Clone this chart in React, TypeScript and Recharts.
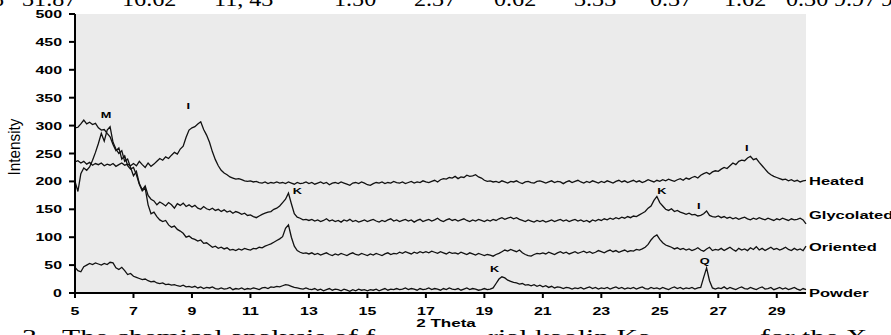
import { LineChart, Line, XAxis, YAxis, CartesianGrid, ReferenceDot } from 'recharts';

// 2-theta grid: 5.0 .. 30.0, every 0.1 degree
const THETA_START = 5;
const THETA_STEP = 0.1;

// intensities, one value per 0.1 degree
const heated = [
  235, 237, 233, 236, 231, 234, 229, 232, 230, 233,
  228, 231, 229, 232, 227, 230, 233, 229, 231, 228,
  232, 228, 236, 230, 225, 233, 227, 231, 236, 241,
  238, 244, 241, 247, 252, 249, 258, 263, 279, 292,
  296, 298, 303, 307, 293, 283, 270, 253, 239, 228,
  220, 215, 212, 208, 206, 204, 205, 203, 201, 200,
  201, 199, 200, 198, 197, 199, 196, 198, 197, 199,
  197, 198, 196, 199, 197, 195, 198, 196, 197, 199,
  196, 198, 195, 197, 199, 196, 198, 194, 197, 198,
  196, 199, 197, 195, 193, 197, 198, 196, 199, 197,
  194, 193, 196, 198, 197, 199, 196, 198, 197, 200,
  198, 197, 199, 196, 198, 200, 197, 199, 198, 201,
  199, 198, 200, 202, 199, 203, 205, 204, 207, 206,
  209, 205, 208, 207, 211, 209, 210, 212, 208, 206,
  202, 200, 201, 199, 200, 198, 201, 199, 197, 200,
  199, 201, 198, 196, 199, 200, 198, 197, 200, 201,
  199, 197, 199, 201, 198, 200, 199, 196, 199, 201,
  198, 200, 202, 199, 197, 200, 198, 201, 199, 197,
  200, 198, 201, 199, 197, 200, 202, 199, 201, 198,
  200, 202, 199, 201, 198, 200, 203, 201, 199, 202,
  200, 203, 201, 204, 202, 200, 203, 205, 202, 206,
  204, 207, 209, 206, 211, 214, 216, 213, 217, 219,
  218, 222, 225, 223, 228, 233, 230, 236, 238, 237,
  242, 245, 239, 241, 234, 228, 222, 216, 212, 209,
  207, 205, 203, 204, 201, 203, 200, 202, 199, 201,
  202,
];

const glycolated = [
  200, 182, 214, 224, 220, 226, 238, 252, 268, 286,
  272, 292, 298, 270, 258, 250, 255, 236, 240, 225,
  210, 218, 196, 185, 192, 175, 168, 165, 158, 163,
  160, 156, 162, 158, 152, 160, 157, 161, 155, 158,
  154, 157, 152, 150, 155, 151, 149, 152, 148, 150,
  146, 149, 145, 147, 143, 146, 144, 141, 143, 139,
  140, 137, 135, 138, 141, 143, 145, 146, 150, 152,
  156, 162, 168, 179, 160, 142, 136, 134, 131, 132,
  130, 132, 129, 131, 128, 130, 133, 129, 131, 128,
  130, 127, 131, 129, 132, 128, 130, 127, 129, 131,
  128, 130, 132, 129, 127, 130, 128, 131, 133, 129,
  131, 128, 130, 132, 129, 131, 127, 130, 132, 128,
  130, 132, 129, 131, 134, 130, 128, 131, 133, 130,
  132, 129, 131, 133, 130, 128, 131, 129, 132, 130,
  128, 131, 129, 132, 130, 133, 135, 132, 134, 136,
  133, 135, 132, 130, 128, 131, 129, 127, 130, 128,
  130, 127, 129, 131, 128, 130, 132, 129, 131, 128,
  130, 132, 129, 131, 128, 130, 127, 131, 129, 132,
  130, 133, 131, 134, 132, 135, 133, 136, 134, 137,
  135, 138, 137, 140, 143, 146, 152, 156, 166, 173,
  162, 156, 150, 148, 151, 146, 148, 145, 143, 141,
  143, 140, 141, 138, 139, 142, 147, 139, 137, 136,
  138, 135, 137, 134, 136, 133, 135, 132, 134, 136,
  133, 131, 134, 132, 135, 133, 131, 134, 132, 130,
  133, 131, 134, 132, 130, 133, 131, 132, 134, 131,
  124,
];

const oriented = [
  296, 297, 303, 310, 303, 306, 302, 304, 296, 292,
  293, 286, 280, 266, 255, 260, 240, 246, 228, 222,
  225, 212, 195, 183, 188, 158, 142, 145, 137, 131,
  128, 130, 122, 118, 120, 114, 111, 107, 100, 102,
  98, 96, 93, 95, 89, 90, 86, 82, 84, 80,
  82, 79, 81, 77, 78, 76, 79, 77, 80, 78,
  77, 80, 79, 82, 81, 84, 86, 88, 91, 94,
  97, 101, 116, 122, 100, 84, 76, 73, 71, 72,
  70, 72, 69, 71, 68, 70, 72, 69, 67, 70,
  68, 71, 69, 67, 70, 72, 69, 68, 71, 69,
  67, 70, 68, 71, 69, 67, 70, 72, 69, 71,
  70, 73, 71, 74, 72, 70, 73, 71, 74, 72,
  74, 72, 75, 73, 71, 74, 72, 70, 73, 71,
  72, 70, 73, 71, 69, 72, 70, 68, 71, 69,
  67, 69, 68, 66, 69, 71, 74, 77, 75, 78,
  76, 74, 77, 72, 69, 67, 66, 69, 71, 70,
  72, 70, 73, 71, 69, 72, 74, 71, 73, 70,
  72, 74, 71, 73, 75, 72, 74, 71, 73, 76,
  74, 72, 75, 77, 74, 76, 73, 75, 77, 74,
  76, 75, 78, 77, 79, 82, 87, 95, 101, 104,
  96, 90, 86, 84, 82, 79, 81, 78, 80, 77,
  79, 76, 78, 81, 77, 75, 79, 82, 76, 78,
  77, 80, 76, 79, 82, 78, 75, 80, 77, 79,
  76, 81, 78, 83, 77, 80, 76, 79, 82, 78,
  80, 77, 79, 82, 78, 76, 80, 77, 79, 76,
  84,
];

const powder = [
  46, 40, 38, 47, 50, 53, 51, 54, 52, 50,
  53, 51, 55, 54, 45, 42, 46, 40, 33, 35,
  30, 28, 26, 24, 25, 22, 20, 21, 18, 17,
  18, 15, 16, 14, 15, 13, 12, 14, 11, 12,
  10, 12, 9, 11, 8, 10, 9, 11, 8, 7,
  9, 7, 8, 10, 6, 8, 7, 9, 6, 8,
  7, 9, 8, 6, 9, 10, 8, 11, 10, 12,
  11, 13, 15, 14, 12, 10, 9, 8, 7, 9,
  7, 6, 8, 5, 7, 4, 6, 8, 5, 7,
  6, 4, 7, 5, 3, 6, 4, 7, 5, 6,
  4, 6, 5, 7, 4, 6, 8, 5, 7, 6,
  8, 6, 7, 9, 6, 8, 7, 5, 8, 6,
  7, 9, 6, 8, 7, 5, 8, 6, 9, 7,
  6, 8, 5, 7, 9, 6, 8, 7, 5, 6,
  8, 6, 7, 9, 17, 25, 29, 27, 23, 21,
  19, 18, 16, 17, 14, 15, 13, 15, 12, 14,
  11, 13, 10, 12, 9, 11, 10, 8, 10, 9,
  7, 9, 8, 10, 7, 9, 11, 8, 10, 7,
  9, 8, 10, 7, 9, 11, 8, 10, 7, 9,
  8, 10, 7, 9, 11, 8, 7, 10, 8, 9,
  7, 10, 8, 6, 9, 11, 8, 10, 7, 9,
  8, 10, 7, 9, 10, 28, 45, 22, 9, 7,
  9, 8, 11, 7, 10, 8, 6, 9, 11, 8,
  7, 10, 8, 6, 9, 11, 7, 8, 10, 6,
  8, 10, 7, 9, 6, 8, 10, 7, 5, 8,
  6,
];

const xTicks = [5, 7, 9, 11, 13, 15, 17, 19, 21, 23, 25, 27, 29];
const yTicks = [0, 50, 100, 150, 200, 250, 300, 350, 400, 450, 500];

// trace names at the right end, and the level they sit at
const seriesNames = ['Heated', 'Glycolated', 'Oriented', 'Powder'];
const nameLevels = [200, 140, 82, 0];

// mineral letters above the peaks
const peakLetters = ['M', 'I', 'K', 'K', 'I', 'I', 'K', 'Q'];
const peakTheta = [6.06, 8.87, 12.6, 25.07, 26.33, 27.97, 19.35, 26.54];
const peakLevel = [319, 335, 183, 183, 156, 260, 43, 57];

// table row cut off above the figure, and caption cut off below it
const topRow = ['8', '31.87', '16.62', '11, 43', '1.50', '2.37', '0.62', '3.33', '0.37', '1.62', '0.30', '9.97', '99'];
const topRowX = [-8, 22, 122, 214, 334, 414, 494, 574, 650, 724, 786, 834, 881];
const bottomRow = ['3.', 'The chemical analysis of f', 'rial kaolin Ka', 'for the X'];
const bottomRowX = [22, 62, 488, 760];

const data = heated.map((h, i) => ({
  theta: Math.round((THETA_START + i * THETA_STEP) * 10) / 10,
  heated: h,
  glycolated: glycolated[i],
  oriented: oriented[i],
  powder: powder[i],
}));

const SX = 1.45;

const YTick = ({ x, y, payload }: any) => (
  <g transform={`translate(${x},${y})`}>
    <text transform={`scale(${SX},1)`} textAnchor="end" dy={4} fontSize={11} fontWeight="bold" fill="#000">
      {payload.value}
    </text>
  </g>
);

const XTick = ({ x, y, payload }: any) => (
  <g transform={`translate(${x},${y})`}>
    <text transform={`scale(${SX},1)`} textAnchor="middle" dy={11} fontSize={11} fontWeight="bold" fill="#000">
      {payload.value}
    </text>
  </g>
);

const PeakMark = ({ viewBox, text }: any) => (
  <g transform={`translate(${viewBox.x},${viewBox.y})`}>
    <text transform="scale(1.5,1)" textAnchor="middle" dy={3} fontSize={8.5} fontWeight="bold" fill="#000">
      {text}
    </text>
  </g>
);

const NameMark = ({ viewBox, text }: any) => (
  <g transform={`translate(${viewBox.x + 3},${viewBox.y})`}>
    <text transform="scale(1.5,1)" textAnchor="start" dy={4} fontSize={11} fontWeight="bold" fill="#000">
      {text}
    </text>
  </g>
);

export default function App() {
  const lineProps = { type: 'linear' as const, stroke: '#111', strokeWidth: 1.3, dot: false, isAnimationActive: false };
  return (
    <div style={{ position: 'absolute', left: 0, top: 0, width: 891, height: 335, overflow: 'hidden', background: '#fff', fontFamily: "'Liberation Sans', Arial, sans-serif" }}>
      <LineChart width={891} height={335} data={data} margin={{ top: 14, right: 85, bottom: 12, left: 15 }}>
        <CartesianGrid horizontal={false} vertical={false} fill="#ebebeb" fillOpacity={1} />
        <XAxis
          dataKey="theta"
          type="number"
          domain={[5, 30]}
          ticks={xTicks}
          height={30}
          tickSize={5}
          tickMargin={6}
          tick={<XTick />}
          axisLine={{ stroke: '#000', strokeWidth: 2 }}
          tickLine={{ stroke: '#000', strokeWidth: 2 }}
        />
        <YAxis
          type="number"
          domain={[0, 500]}
          ticks={yTicks}
          width={60}
          tickSize={6}
          tickMargin={7}
          tick={<YTick />}
          axisLine={{ stroke: '#000', strokeWidth: 2 }}
          tickLine={{ stroke: '#000', strokeWidth: 2 }}
        />
        <Line dataKey="powder" {...lineProps} />
        <Line dataKey="oriented" {...lineProps} />
        <Line dataKey="glycolated" {...lineProps} />
        <Line dataKey="heated" {...lineProps} />
        {peakLetters.map((t, i) => (
          <ReferenceDot key={`p${i}`} x={peakTheta[i]} y={peakLevel[i]} r={0} fill="none" stroke="none" label={<PeakMark text={t} />} />
        ))}
        {seriesNames.map((n, i) => (
          <ReferenceDot key={`n${i}`} x={30} y={nameLevels[i]} r={0} fill="none" stroke="none" label={<NameMark text={n} />} />
        ))}
      </LineChart>
      <svg width={891} height={335} style={{ position: 'absolute', left: 0, top: 0, pointerEvents: 'none' }}>
        {topRow.map((t, i) => (
          <text key={`t${i}`} transform={`translate(${topRowX[i]},6) scale(1.15,1)`} fontSize={21} fontFamily="'Liberation Serif', 'Times New Roman', serif" fill="#000">
            {t}
          </text>
        ))}
        {bottomRow.map((t, i) => (
          <text key={`b${i}`} transform={`translate(${bottomRowX[i]},344) scale(1.35,1)`} fontSize={22} fontFamily="'Liberation Serif', 'Times New Roman', serif" fill="#000">
            {t}
          </text>
        ))}
        <text transform="translate(446,327) scale(1.55,1)" textAnchor="middle" fontSize={11} fontWeight="bold" fill="#000">
          2 Theta
        </text>
        <text transform="translate(20,147) scale(1.5,1) rotate(-90)" textAnchor="middle" fontSize={11} textLength={57} lengthAdjust="spacingAndGlyphs" fill="#000">
          Intensity
        </text>
      </svg>
    </div>
  );
}
